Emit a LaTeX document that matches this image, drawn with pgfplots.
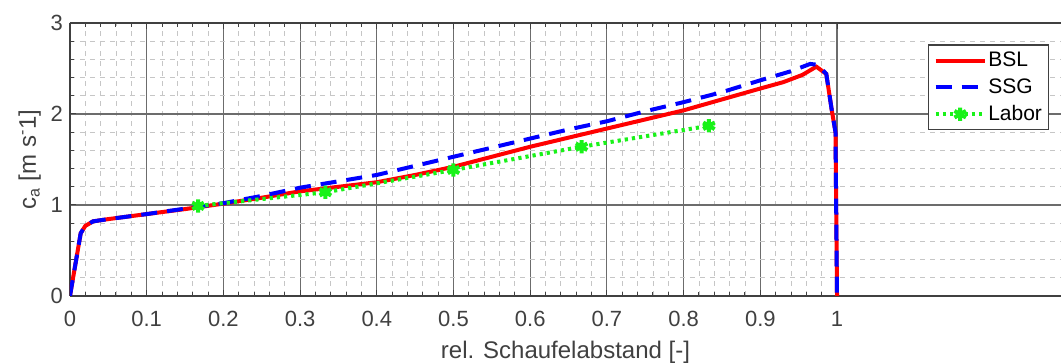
\documentclass[border=0pt]{standalone}
\usepackage{fontspec}
\setmainfont{Liberation Sans}
\usepackage{pgfplots}
\pgfplotsset{compat=1.18}
\definecolor{axgray}{rgb}{0.25,0.25,0.25}
\definecolor{labgreen}{rgb}{0.1,0.95,0.1}
\begin{document}
\begin{tikzpicture}
\begin{axis}[
  scale only axis, width=495.5pt, height=136.5pt,
  xmin=0, xmax=1.292, ymin=0, ymax=3,
  axis x line*=box, axis y line*=left,
  axis line style={axgray, line width=0.6pt},
  xtick={0,0.1,0.2,0.3,0.4,0.5,0.6,0.7,0.8,0.9,1},
  xticklabels={0,0.1,0.2,0.3,0.4,0.5,0.6,0.7,0.8,0.9,1},
  minor xtick={0.02,0.04,0.06,0.08,0.12,0.14,0.16,0.18,0.22,0.24,0.26,0.28,0.32,0.34,0.36,0.38,0.42,0.44,0.46,0.48,0.52,0.54,0.56,0.58,0.62,0.64,0.66,0.68,0.72,0.74,0.76,0.78,0.82,0.84,0.86,0.88,0.92,0.94,0.96,0.98},
  ytick={0,1,2,3},
  minor ytick={0.2,0.4,0.6,0.8,1.2,1.4,1.6,1.8,2.2,2.4,2.6,2.8},
  grid=both,
  major grid style={gray!85!black, line width=0.55pt},
  minor grid style={gray!45, dash pattern=on 2.5pt off 2.5pt, line width=0.4pt},
  tick style={axgray, line width=0.5pt},
  major tick length=3pt, minor tick length=2pt,
  tick align=inside,
  /pgf/number format/assume math mode=true,
  ticklabel style={font=\fontsize{11}{13}\selectfont, text=axgray},
  xticklabel style={yshift=-4pt},
  label style={font=\fontsize{12}{14}\selectfont, text=axgray},
  xlabel={rel. Schaufelabstand [-]},
  ylabel={c\textsubscript{a} [m s\textsuperscript{-}1]},
  xlabel style={yshift=-0.5pt},
  ylabel style={yshift=-2pt},
  legend style={at={(axis description cs:0.927,0.764)}, anchor=center,
    draw=axgray, line width=0.6pt, font=\fontsize{10.5}{12}\selectfont, text=black,
    row sep=2.8pt, inner sep=2.5pt,
    nodes={inner sep=0.8pt, text height=7.4pt, text depth=1.6pt}},
  legend cell align=left,
  legend image code/.code={\draw[mark repeat=2,mark phase=2,#1] plot coordinates {(0cm,0cm) (0.43cm,0cm) (0.86cm,0cm)};},
]
\addplot[red, line width=2pt] coordinates {
(0,0) (0.014,0.69) (0.02,0.77) (0.03,0.82) (0.05,0.845) (0.1,0.9) (0.15,0.955) (0.2,1.015) (0.25,1.08) (0.3,1.15) (0.35,1.2) (0.4,1.25) (0.45,1.33) (0.5,1.42) (0.55,1.53) (0.6,1.64) (0.65,1.74) (0.7,1.84) (0.75,1.94) (0.8,2.04) (0.85,2.16) (0.9,2.28) (0.93,2.35) (0.955,2.43) (0.973,2.52) (0.986,2.44) (0.993,2.05) (0.998,1.8) (1.0,0)};
\addlegendentry{BSL}
\addplot[blue, line width=2pt, dash pattern=on 8pt off 5pt] coordinates {
(0,0) (0.014,0.69) (0.02,0.77) (0.03,0.82) (0.05,0.845) (0.1,0.9) (0.15,0.96) (0.2,1.02) (0.25,1.1) (0.3,1.19) (0.35,1.26) (0.4,1.33) (0.45,1.43) (0.5,1.53) (0.55,1.63) (0.6,1.73) (0.65,1.83) (0.7,1.92) (0.75,2.03) (0.8,2.13) (0.85,2.24) (0.9,2.37) (0.94,2.47) (0.965,2.55) (0.975,2.54) (0.986,2.44) (0.993,2.05) (0.998,1.8) (1.0,0)};
\addlegendentry{SSG}
\addplot[labgreen, line width=2pt, dash pattern=on 1.6pt off 2pt, mark=asterisk, mark size=3.3pt, mark options={solid, line width=2pt}] coordinates {
(0.167,0.99) (0.333,1.14) (0.5,1.385) (0.667,1.64) (0.833,1.87)};
\addlegendentry{Labor}
\coordinate (bl) at (axis description cs:-0.0706,-0.2454);
\coordinate (tr) at (axis description cs:1,1.0842);
\end{axis}
\pgfresetboundingbox
\path[use as bounding box] (bl) rectangle (tr);
\end{tikzpicture}
\end{document}
